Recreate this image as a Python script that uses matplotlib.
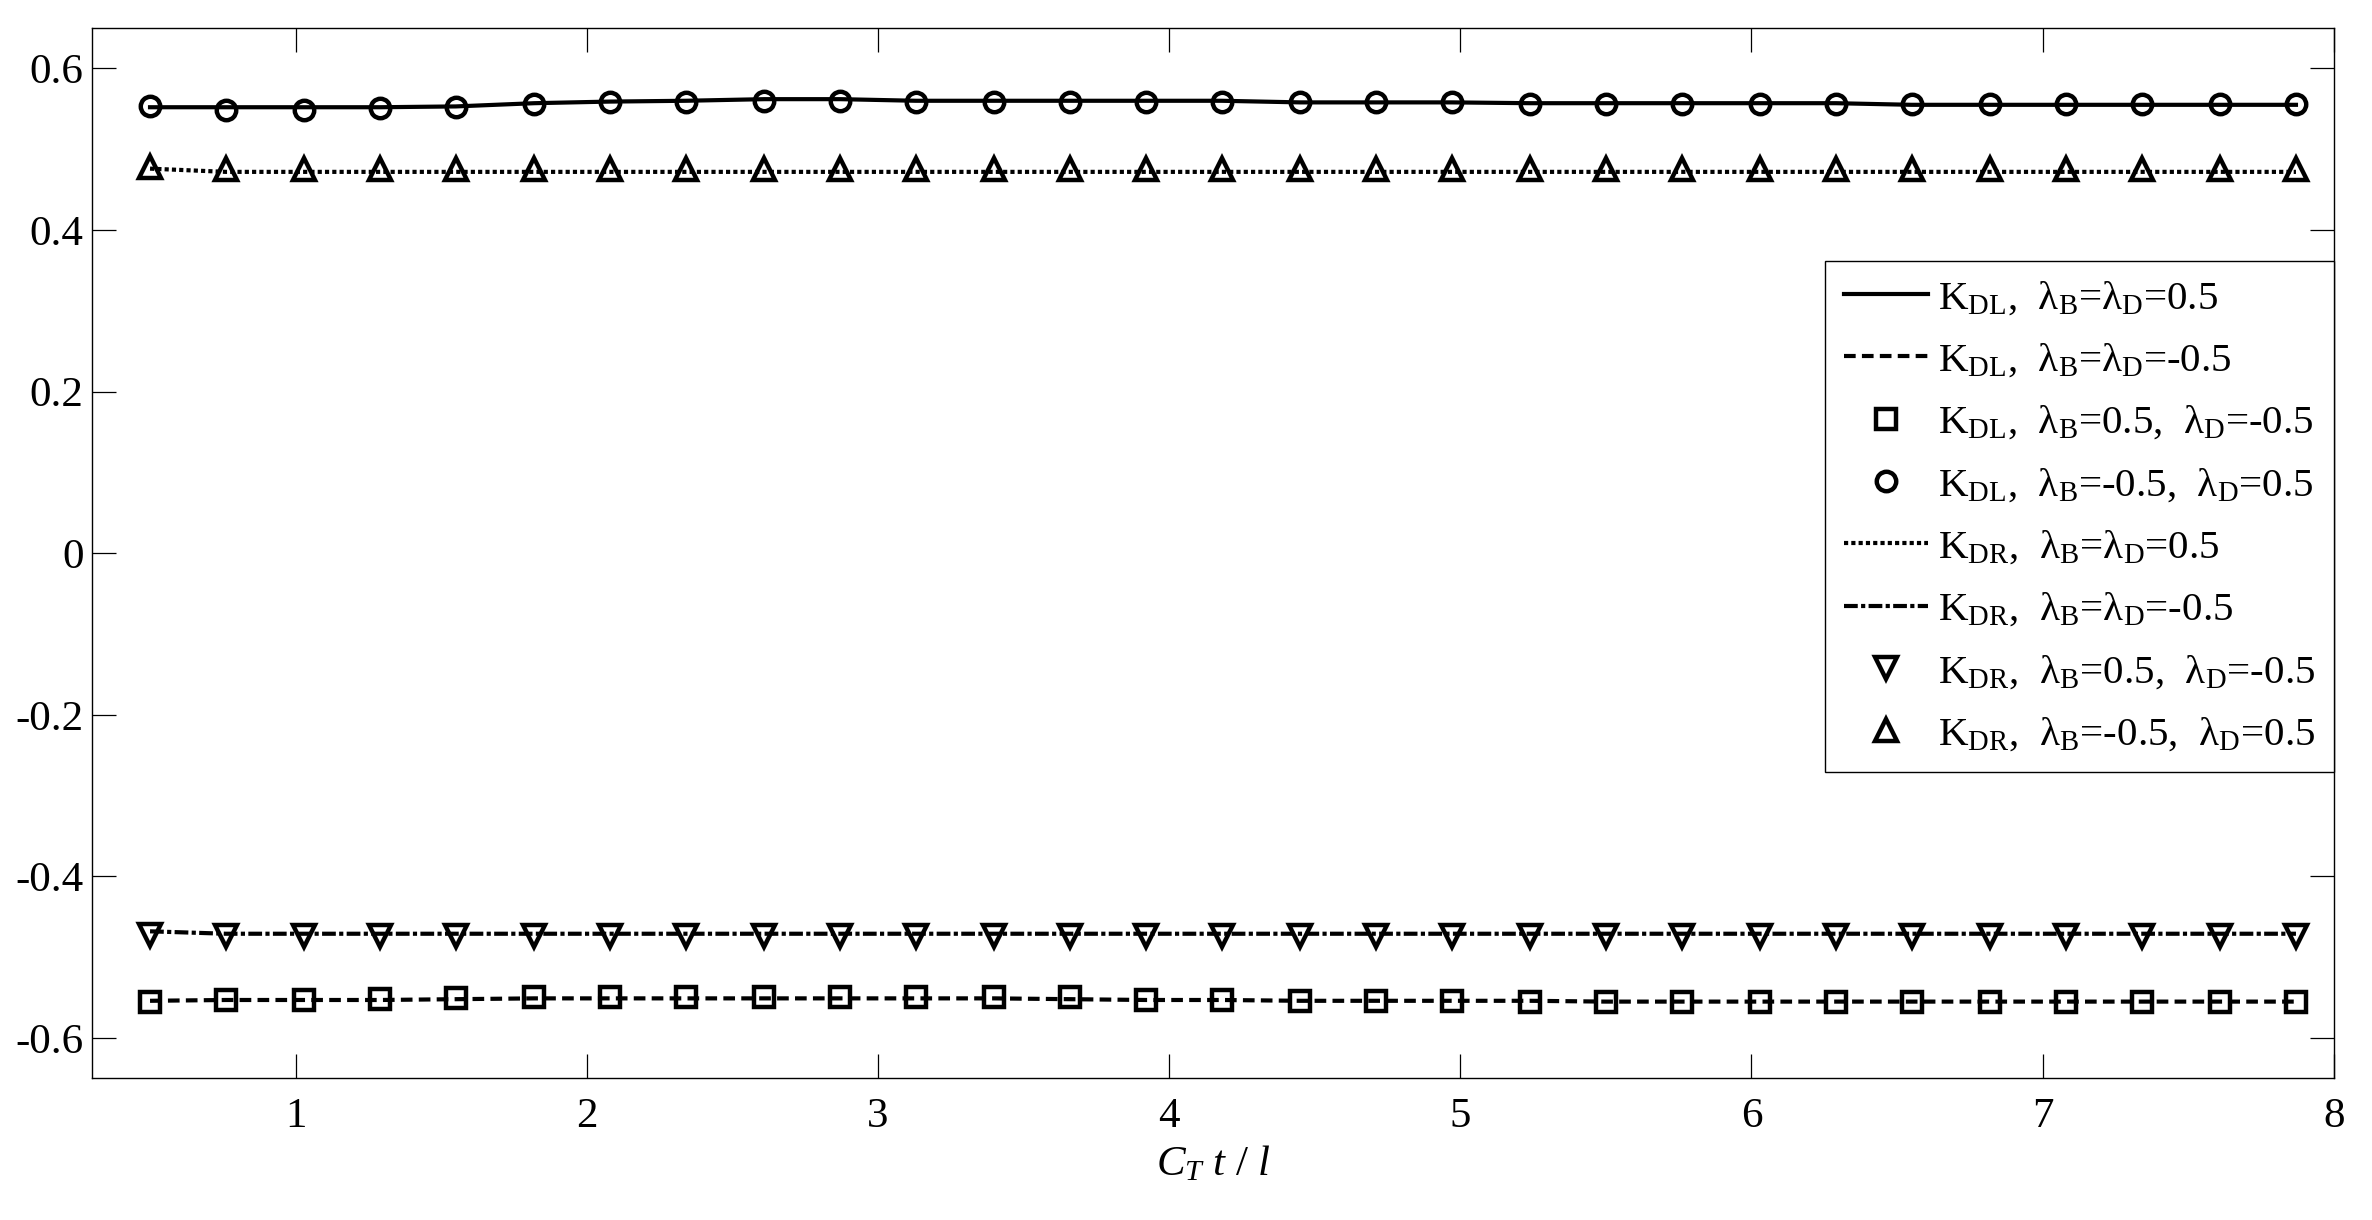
import numpy as np
import matplotlib
matplotlib.use('Agg')
import matplotlib.pyplot as plt

plt.rcParams.update({
    'font.family': ['Liberation Serif', 'DejaVu Serif'],
    'mathtext.fontset': 'custom',
    'mathtext.rm': 'Liberation Serif',
    'mathtext.it': 'Liberation Serif:italic',
    'mathtext.bf': 'Liberation Serif:bold',
    'axes.unicode_minus': False,
})

# time axis C_T t / l
x = [0.50, 0.76, 1.03, 1.29, 1.55, 1.82, 2.08, 2.34, 2.61, 2.87,
     3.13, 3.40, 3.66, 3.92, 4.18, 4.45, 4.71, 4.97, 5.24, 5.50,
     5.76, 6.03, 6.29, 6.55, 6.82, 7.08, 7.34, 7.61, 7.87]

# K_DL, lambda_B = lambda_D = 0.5  (solid)
kdl_pp = [0.552, 0.552, 0.552, 0.552, 0.553, 0.557, 0.559, 0.560, 0.562, 0.562,
          0.560, 0.560, 0.560, 0.560, 0.560, 0.558, 0.558, 0.558, 0.557, 0.557,
          0.557, 0.557, 0.557, 0.555, 0.555, 0.555, 0.555, 0.555, 0.555]
# K_DL, lambda_B = lambda_D = -0.5  (dashed)
kdl_mm = [-0.554, -0.553, -0.553, -0.553, -0.552, -0.551, -0.551, -0.551, -0.551, -0.551,
          -0.551, -0.551, -0.552, -0.553, -0.553, -0.554, -0.554, -0.554, -0.554, -0.555,
          -0.555, -0.555, -0.555, -0.555, -0.555, -0.555, -0.555, -0.555, -0.555]
# K_DL, lambda_B = 0.5, lambda_D = -0.5  (squares)
kdl_pm = [-0.555, -0.553, -0.553, -0.552, -0.551, -0.549, -0.549, -0.549, -0.549, -0.549,
          -0.549, -0.549, -0.549, -0.553, -0.553, -0.554, -0.554, -0.554, -0.555, -0.555,
          -0.556, -0.556, -0.556, -0.556, -0.556, -0.556, -0.556, -0.556, -0.556]
# K_DL, lambda_B = -0.5, lambda_D = 0.5  (circles)
kdl_mp = [0.554, 0.549, 0.549, 0.551, 0.552, 0.556, 0.559, 0.559, 0.560, 0.560,
          0.559, 0.559, 0.559, 0.559, 0.559, 0.558, 0.558, 0.558, 0.556, 0.556,
          0.556, 0.556, 0.556, 0.556, 0.556, 0.556, 0.556, 0.556, 0.556]
# K_DR, lambda_B = lambda_D = 0.5  (dotted)
kdr_pp = [0.476, 0.472, 0.472, 0.472, 0.472, 0.472, 0.472, 0.472, 0.472, 0.472,
          0.472, 0.472, 0.472, 0.472, 0.472, 0.472, 0.472, 0.472, 0.472, 0.472,
          0.472, 0.472, 0.472, 0.472, 0.472, 0.472, 0.472, 0.472, 0.472]
# K_DR, lambda_B = lambda_D = -0.5  (dash-dot)
kdr_mm = [-0.468, -0.471, -0.471, -0.471, -0.471, -0.471, -0.471, -0.471, -0.471, -0.471,
          -0.471, -0.471, -0.471, -0.471, -0.471, -0.471, -0.471, -0.471, -0.471, -0.471,
          -0.471, -0.471, -0.471, -0.471, -0.471, -0.471, -0.471, -0.471, -0.471]
# K_DR, lambda_B = 0.5, lambda_D = -0.5  (down triangles)
kdr_pm = [-0.472, -0.474, -0.474, -0.474, -0.474, -0.474, -0.474, -0.474, -0.474, -0.474,
          -0.474, -0.474, -0.474, -0.474, -0.474, -0.474, -0.474, -0.474, -0.474, -0.474,
          -0.474, -0.474, -0.474, -0.474, -0.474, -0.474, -0.474, -0.474, -0.474]
# K_DR, lambda_B = -0.5, lambda_D = 0.5  (up triangles)
kdr_mp = [0.478, 0.476, 0.476, 0.476, 0.476, 0.476, 0.476, 0.476, 0.476, 0.476,
          0.476, 0.476, 0.476, 0.476, 0.476, 0.476, 0.476, 0.476, 0.476, 0.476,
          0.476, 0.476, 0.476, 0.476, 0.476, 0.476, 0.476, 0.476, 0.476]

labels = [
    'K$_{\\mathrm{DL}}$,  λ$_{\\mathrm{B}}$=λ$_{\\mathrm{D}}$=0.5',
    'K$_{\\mathrm{DL}}$,  λ$_{\\mathrm{B}}$=λ$_{\\mathrm{D}}$=-0.5',
    'K$_{\\mathrm{DL}}$,  λ$_{\\mathrm{B}}$=0.5,  λ$_{\\mathrm{D}}$=-0.5',
    'K$_{\\mathrm{DL}}$,  λ$_{\\mathrm{B}}$=-0.5,  λ$_{\\mathrm{D}}$=0.5',
    'K$_{\\mathrm{DR}}$,  λ$_{\\mathrm{B}}$=λ$_{\\mathrm{D}}$=0.5',
    'K$_{\\mathrm{DR}}$,  λ$_{\\mathrm{B}}$=λ$_{\\mathrm{D}}$=-0.5',
    'K$_{\\mathrm{DR}}$,  λ$_{\\mathrm{B}}$=0.5,  λ$_{\\mathrm{D}}$=-0.5',
    'K$_{\\mathrm{DR}}$,  λ$_{\\mathrm{B}}$=-0.5,  λ$_{\\mathrm{D}}$=0.5',
]

fig = plt.figure(figsize=(23.72, 12.2), dpi=100)
ax = fig.add_axes([0.0387, 0.1161, 0.9452, 0.8609])

lw = 3.0
mk = dict(linestyle='none', color='k', markerfacecolor='none', markeredgewidth=3.2)
ax.plot(x, kdl_pp, color='k', lw=lw, ls='-', label=labels[0])
ax.plot(x, kdl_mm, color='k', lw=lw, ls=(0, (2.8, 1.5)), label=labels[1])
ax.plot(x, kdl_pm, marker='s', ms=14, label=labels[2], **mk)
ax.plot(x, kdl_mp, marker='o', ms=14, label=labels[3], **mk)
ax.plot(x, kdr_pp, color='k', lw=lw, ls=(0, (1.0, 0.75)), label=labels[4])
ax.plot(x, kdr_mm, color='k', lw=lw, ls=(0, (3.3, 0.8, 1.0, 0.8)), label=labels[5])
ax.plot(x, kdr_pm, marker='v', ms=16, label=labels[6], **mk)
ax.plot(x, kdr_mp, marker='^', ms=16, label=labels[7], **mk)

ax.set_xlim(0.3, 8)
ax.set_ylim(-0.65, 0.65)
ax.set_xticks([1, 2, 3, 4, 5, 6, 7, 8])
ax.set_yticks([-0.6, -0.4, -0.2, 0, 0.2, 0.4, 0.6])
ax.set_yticklabels(['-0.6', '-0.4', '-0.2', '0', '0.2', '0.4', '0.6'])
ax.tick_params(direction='in', length=17, width=0.9, top=True, right=True,
               labelsize=31)
ax.tick_params(axis='x', pad=14)
ax.tick_params(axis='y', pad=6)
for s in ax.spines.values():
    s.set_linewidth(1.0)

ax.set_xlabel('$C_{T}\\ t\\ /\\ l$', fontsize=31, labelpad=6)

leg = ax.legend(loc='upper right', bbox_to_anchor=(1.0, 0.778), borderaxespad=0,
                fontsize=29.5, frameon=True, fancybox=False, framealpha=1,
                edgecolor='k', handlelength=2.05, handletextpad=0.25,
                labelspacing=0.6, borderpad=0.45, numpoints=1)
leg.get_frame().set_linewidth(1.0)

fig.savefig('out.png', dpi=100)
